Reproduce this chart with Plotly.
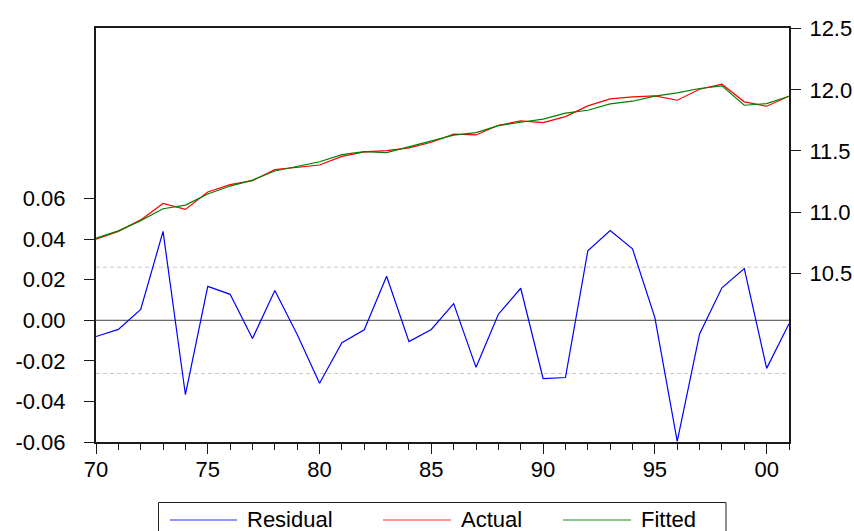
import plotly.graph_objects as go

# ---------------- data ----------------
years = list(range(1970, 2002))
residual = [-0.0080, -0.0045, 0.0053, 0.0438, -0.0367, 0.0167, 0.0128, -0.0090, 0.0147, -0.0070,
            -0.0310, -0.0110, -0.0047, 0.0217, -0.0105, -0.0045, 0.0082, -0.0232, 0.0030, 0.0158,
            -0.0287, -0.0282, 0.0342, 0.0443, 0.0352, 0.0013, -0.0597, -0.0067, 0.0160, 0.0255,
            -0.0237, -0.0017]
actual = [10.779, 10.842, 10.936, 11.071, 11.022, 11.164, 11.224, 11.257, 11.347, 11.369,
          11.385, 11.456, 11.492, 11.503, 11.525, 11.571, 11.637, 11.631, 11.710, 11.746,
          11.732, 11.781, 11.869, 11.926, 11.943, 11.951, 11.915, 12.005, 12.046, 11.902,
          11.866, 11.948]
fitted = [10.787, 10.846, 10.930, 11.027, 11.057, 11.148, 11.213, 11.262, 11.336, 11.377,
          11.412, 11.470, 11.494, 11.486, 11.533, 11.576, 11.629, 11.650, 11.707, 11.735,
          11.760, 11.809, 11.833, 11.885, 11.907, 11.948, 11.975, 12.011, 12.033, 11.874,
          11.888, 11.948]
se_band = 0.0262

x_tickvals = [1970, 1975, 1980, 1985, 1990, 1995, 2000]
x_ticktext = ["70", "75", "80", "85", "90", "95", "00"]
left_tickvals = [-0.06, -0.04, -0.02, 0.00, 0.02, 0.04, 0.06]
left_ticktext = ["-0.06", "-0.04", "-0.02", "0.00", "0.02", "0.04", "0.06"]
right_tickvals = [10.5, 11.0, 11.5, 12.0, 12.5]
right_ticktext = ["10.5", "11.0", "11.5", "12.0", "12.5"]

series_names = ["Residual", "Actual", "Fitted"]
series_colors = ["#0000FF", "#FF0000", "#008000"]
legend_colors = ["#6F6FFF", "#FF7070", "#66B366"]

# ---------------- layout geometry ----------------
W, H = 854, 531
L, R, T, B = 96, 65, 28, 89
plot_w = W - L - R
plot_h = H - T - B


def px2paper_x(px):
    return (px - L) / plot_w


def px2paper_y(py):
    return (H - B - py) / plot_h


FONT = "Liberation Sans, Arial, sans-serif"
FS = 22
AXC = "#1a1a1a"

fig = go.Figure()

fig.add_trace(go.Scatter(x=years, y=residual, name=series_names[0], mode="lines",
                         line=dict(color=series_colors[0], width=1.2), yaxis="y",
                         showlegend=False))
fig.add_trace(go.Scatter(x=years, y=actual, name=series_names[1], mode="lines",
                         line=dict(color=series_colors[1], width=1.2), yaxis="y2",
                         showlegend=False))
fig.add_trace(go.Scatter(x=years, y=fitted, name=series_names[2], mode="lines",
                         line=dict(color=series_colors[2], width=1.2), yaxis="y2",
                         showlegend=False))

shapes = []
# reference lines (zero and +/- standard error band)
shapes.append(dict(type="line", xref="paper", yref="y", x0=0, x1=1, y0=0, y1=0,
                   line=dict(color="#444444", width=1), layer="below"))
for v in (se_band, -se_band):
    shapes.append(dict(type="line", xref="paper", yref="y", x0=0, x1=1, y0=v, y1=v,
                       line=dict(color="#C8C8C8", width=1, dash="4px,3px"), layer="below"))

# manual legend box
shapes.append(dict(type="rect", xref="paper", yref="paper",
                   x0=px2paper_x(158.5), x1=px2paper_x(726), y0=px2paper_y(545), y1=px2paper_y(502.5),
                   line=dict(color="#222222", width=1), fillcolor="rgba(0,0,0,0)"))
legend_line_x = [(170, 237), (383, 451), (563, 631)]
legend_text_x = [247, 461, 641]
annotations = []
for (a, b), tx, nm, col in zip(legend_line_x, legend_text_x, series_names, legend_colors):
    shapes.append(dict(type="line", xref="paper", yref="paper",
                       x0=px2paper_x(a), x1=px2paper_x(b), y0=px2paper_y(520), y1=px2paper_y(520),
                       line=dict(color=col, width=1.5)))
    annotations.append(dict(xref="paper", yref="paper", x=px2paper_x(tx), y=px2paper_y(519),
                            text=nm, showarrow=False, xanchor="left", yanchor="middle",
                            xshift=-2,
                            font=dict(family=FONT, size=FS, color="#000000")))

fig.update_layout(
    width=W, height=H,
    margin=dict(l=L, r=R, t=T, b=B, pad=0, autoexpand=False),
    paper_bgcolor="white", plot_bgcolor="white",
    showlegend=False,
    font=dict(family=FONT, size=FS, color="#000000"),
    xaxis=dict(range=[1970, 2001], showgrid=False, zeroline=False, automargin=False,
               showline=True, linecolor=AXC, linewidth=2, mirror=True,
               ticks="outside", ticklen=10, tickwidth=1, tickcolor=AXC,
               tickmode="array", tickvals=x_tickvals, ticktext=x_ticktext,
               ticklabelstandoff=-3,
               minor=dict(tickmode="array", tickvals=years, ticks="outside", ticklen=6,
                          tickwidth=1, tickcolor=AXC, showgrid=False),
               tickfont=dict(family=FONT, size=FS)),
    yaxis=dict(range=[-0.06, 0.1441], showgrid=False, zeroline=False, automargin=False,
               showline=True, linecolor=AXC, linewidth=2,
               ticks="outside", ticklen=10, tickwidth=1, tickcolor=AXC,
               tickmode="array", tickvals=left_tickvals, ticktext=left_ticktext,
               ticklabelstandoff=14,
               tickfont=dict(family=FONT, size=FS)),
    yaxis2=dict(range=[9.119, 12.506], overlaying="y", side="right", anchor="x",
                showgrid=False, zeroline=False, automargin=False,
                showline=True, linecolor=AXC, linewidth=2,
                ticks="outside", ticklen=10, tickwidth=1, tickcolor=AXC,
                tickmode="array", tickvals=right_tickvals, ticktext=right_ticktext,
                ticklabelstandoff=4,
                tickfont=dict(family=FONT, size=FS)),
    shapes=shapes,
    annotations=annotations,
)

fig.write_html("out.html")
